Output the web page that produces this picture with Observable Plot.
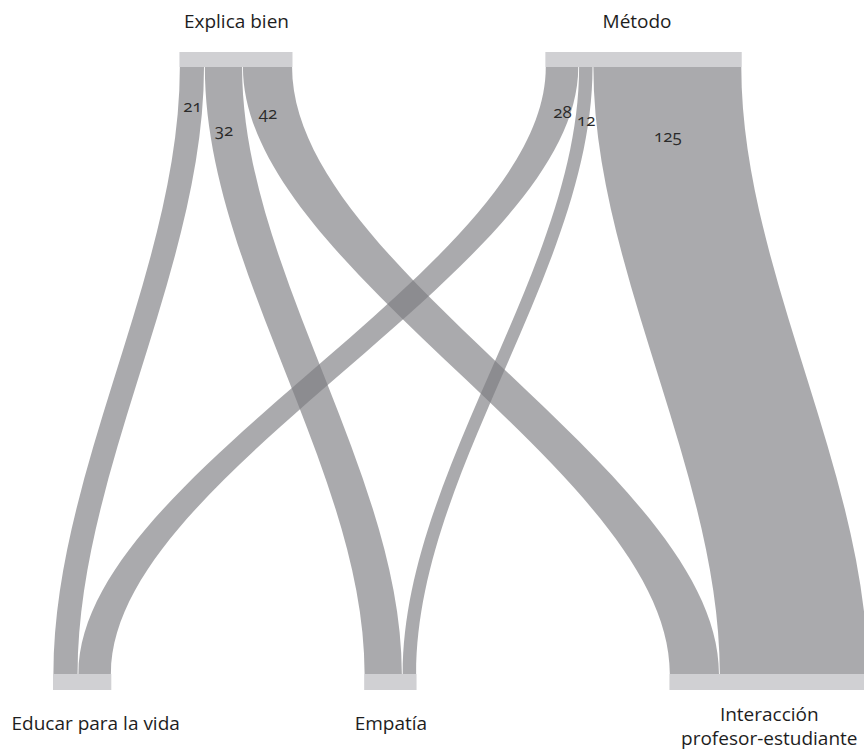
<!DOCTYPE html>
<html><head><meta charset="utf-8">
<script src="https://cdn.jsdelivr.net/npm/d3@7"></script>
<script src="https://cdn.jsdelivr.net/npm/@observablehq/plot@0.6"></script>
<style>
body{margin:0;background:#fff}
#chart svg{display:block;font-family:"Open Sans",sans-serif}
#chart svg text{font-variant-numeric:oldstyle-nums}
</style>
</head><body><div id="chart"></div>
<script>
// ---- data ----
const sourceNodes = ["Explica bien", "Método"];
const targetNodes = ["Educar para la vida", "Empatía", "Interacción\nprofesor-estudiante"];
const linkSource = ["Explica bien", "Explica bien", "Explica bien", "Método", "Método", "Método"];
const linkTarget = ["Educar para la vida", "Empatía", "Interacción\nprofesor-estudiante",
                    "Educar para la vida", "Empatía", "Interacción\nprofesor-estudiante"];
const linkValue = [21, 32, 42, 28, 12, 125];

// ---- layout (not data) ----
const GAP = 212.5;            // gap between nodes, in value units
const PX_PER_UNIT = 1.19;
const X0 = 53;                // pixel position of first bottom node
const W = 864, H = 753;
const TOP_BAR = [52, 67], BOT_BAR = [674, 690];
const linkLabelY = [106, 130, 113, 112, 120, 136];
const SEAM = 0.35;            // half seam between ribbons, in value units

// vertical ribbon curve: cubic with control points at one third of the height
function RibbonCurve(context) { this._context = context; }
RibbonCurve.prototype = {
  areaStart() { this._line = 0; },
  areaEnd() { this._line = NaN; },
  lineStart() { this._point = 0; },
  lineEnd() {
    if (this._line || (this._line !== 0 && this._point === 1)) this._context.closePath();
    this._line = 1 - this._line;
  },
  point(x, y) {
    x = +x; y = +y;
    if (this._point === 0) {
      this._point = 1;
      if (this._line) this._context.lineTo(x, y); else this._context.moveTo(x, y);
    } else {
      const d = (y - this._y0) / 3;
      this._context.bezierCurveTo(this._x0, this._y0 + d, x, y - d, x, y);
    }
    this._x0 = x; this._y0 = y;
  }
};
const ribbonCurve = context => new RibbonCurve(context);

const links = linkValue.map((v, i) => ({id: i, source: linkSource[i], target: linkTarget[i], value: v}));
const totalOf = (name, key) => d3.sum(links.filter(l => l[key] === name), l => l.value);

// bottom row
let pos = 0;
const bottomRow = targetNodes.map(name => {
  const v = totalOf(name, "target");
  const n = {name, start: pos, end: pos + v, value: v};
  pos += v + GAP;
  return n;
});
const bottomSpan = pos - GAP;
// top row, centered above bottom row
const topSpan = d3.sum(sourceNodes, n => totalOf(n, "source")) + GAP * (sourceNodes.length - 1);
pos = (bottomSpan - topSpan) / 2;
const topRow = sourceNodes.map(name => {
  const v = totalOf(name, "source");
  const n = {name, start: pos, end: pos + v, value: v};
  pos += v + GAP;
  return n;
});

// link offsets
const srcOff = new Map(topRow.map(n => [n.name, n.start]));
const tgtOff = new Map(bottomRow.map(n => [n.name, n.start]));
const bySrc = [...links].sort((a, b) => sourceNodes.indexOf(a.source) - sourceNodes.indexOf(b.source) || targetNodes.indexOf(a.target) - targetNodes.indexOf(b.target));
bySrc.forEach(l => { const o = srcOff.get(l.source); l.s0 = o; l.s1 = o + l.value; srcOff.set(l.source, o + l.value); });
const byTgt = [...links].sort((a, b) => targetNodes.indexOf(a.target) - targetNodes.indexOf(b.target) || sourceNodes.indexOf(a.source) - sourceNodes.indexOf(b.source));
byTgt.forEach(l => { const o = tgtOff.get(l.target); l.t0 = o; l.t1 = o + l.value; tgtOff.set(l.target, o + l.value); });
links.forEach((l, i) => { l.labelY = linkLabelY[i]; l.labelX = (l.s0 + l.s1) / 2; });

// ribbon end rows: top and bottom edge of each link
const ribbons = links.flatMap(l => [
  {id: l.id, y: TOP_BAR[1], xa: l.s0 + SEAM, xb: l.s1 - SEAM},
  {id: l.id, y: BOT_BAR[0], xa: l.t0 + SEAM, xb: l.t1 - SEAM}
]);

const xDomain = [-X0 / PX_PER_UNIT, (W - X0) / PX_PER_UNIT];
const mid = d => (d.start + d.end) / 2;
const txt = {fill: "#1e1e1e", fontSize: 19};

const chart = Plot.plot({
  width: W, height: H,
  margin: 0,
  x: {domain: xDomain, range: [0, W], axis: null},
  y: {domain: [0, H], range: [0, H], axis: null},
  marks: [
    Plot.rect(topRow, {x1: "start", x2: "end", y1: TOP_BAR[0], y2: TOP_BAR[1], fill: "#d0d0d3"}),
    Plot.rect(bottomRow, {x1: "start", x2: "end", y1: BOT_BAR[0], y2: BOT_BAR[1], fill: "#d0d0d3"}),
    Plot.areaX(ribbons, {y: "y", x1: "xa", x2: "xb", z: "id", curve: ribbonCurve,
      fill: "#7c7d81", fillOpacity: 0.65}),
    Plot.text(links, {x: "labelX", y: "labelY", text: d => String(d.value), fontSize: 17, fill: "#2a2a2a"}),
    Plot.text(topRow.slice(0, 1), {x: mid, y: 21, text: "name", ...txt}),
    Plot.text(topRow.slice(1), {x: mid, y: 21, dx: -7, text: "name", ...txt}),
    Plot.text(bottomRow.slice(0, 1), {x: mid, y: 723, dx: 13, text: "name", ...txt}),
    Plot.text(bottomRow.slice(1, 2), {x: mid, y: 723, text: "name", ...txt}),
    Plot.text(bottomRow.slice(2), {x: mid, y: 725, text: "name", lineHeight: 1.24, ...txt})
  ]
});
document.getElementById("chart").append(chart);
</script>
</body></html>
